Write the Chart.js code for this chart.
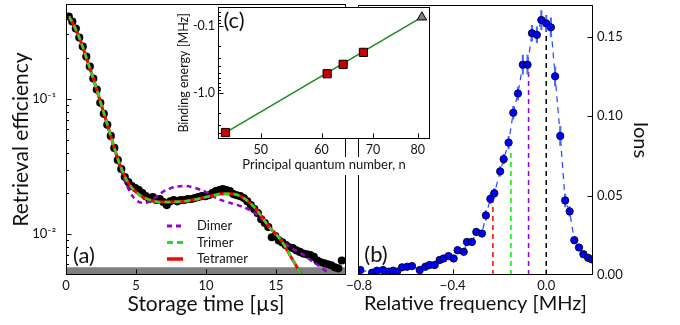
<!DOCTYPE html>
<html>
<head>
<meta charset="utf-8">
<script src="https://cdn.jsdelivr.net/npm/chart.js@4.4.0/dist/chart.umd.min.js"></script>
<style>
  html, body { margin: 0; padding: 0; background: #fff; }
  #wrap { position: relative; width: 680px; height: 325px; overflow: hidden; }
  canvas { position: absolute; top: 0; }
  #chartA { left: 0; }
  #chartB { left: 330px; }
  #chartC { left: 168px; }
  /* white patch behind the inset's x title */
  #mask { position: absolute; left: 230px; top: 157px; width: 192px; height: 18px; background: #fff; }
</style>
</head>
<body>
<div id="wrap">
  <canvas id="chartA" width="352" height="325"></canvas>
  <canvas id="chartB" width="350" height="325"></canvas>
  <div id="mask"></div>
  <canvas id="chartC" width="272" height="180"></canvas>
</div>
<script>
// ---- (a) retrieval efficiency vs storage time
const storageTime = [0.2, 0.45, 0.7, 0.95, 1.2, 1.45, 1.7, 1.95, 2.2, 2.45, 2.7, 2.95, 3.2, 3.45, 3.7, 3.95,
  4.2, 4.45, 4.7, 4.95, 5.2, 5.45, 5.7, 5.95, 6.2, 6.45, 6.7, 6.95, 7.2, 7.45, 7.7, 7.95, 8.2, 8.45, 8.7, 8.95,
  9.2, 9.45, 9.7, 9.95, 10.2, 10.45, 10.7, 10.95, 11.2, 11.45, 11.7, 11.95, 12.2, 12.45, 12.7, 12.95, 13.2,
  13.45, 13.7, 13.95, 14.2, 14.45, 14.7, 14.95, 15.2, 15.45, 15.7, 15.95, 16.2, 16.45, 16.7, 16.95, 17.2,
  17.45, 17.7, 17.95, 18.2, 18.45, 18.7, 18.95, 19.2, 19.45, 19.7];
const efficiency = [0.405, 0.372, 0.330, 0.283, 0.243, 0.205, 0.173, 0.141, 0.117, 0.0934, 0.0774, 0.0642,
  0.0532, 0.0434, 0.0353, 0.0303, 0.0264, 0.0243, 0.0227, 0.0219, 0.0212, 0.0201, 0.0191, 0.0182, 0.0188,
  0.0179, 0.0182, 0.0173, 0.0164, 0.0175, 0.0179, 0.0175, 0.0179, 0.0179, 0.0182, 0.0182, 0.0185, 0.0188,
  0.0191, 0.0191, 0.0194, 0.0201, 0.0208, 0.0212, 0.0215, 0.0212, 0.0208, 0.0198, 0.0194, 0.0191, 0.0185,
  0.0175, 0.0164, 0.0153, 0.0143, 0.0129, 0.0121, 0.0113, 0.0095, 0.0097, 0.0090, 0.0087, 0.0083, 0.0080,
  0.0079, 0.0076, 0.0074, 0.0072, 0.0071, 0.0070, 0.0068, 0.0064, 0.0062, 0.0061, 0.0060, 0.0059, 0.0057,
  0.0056, 0.0064];

const fitTime = [0.2, 0.5, 1, 1.5, 2, 2.5, 3, 3.5, 4, 4.5, 5, 5.5, 6, 6.5, 7, 7.5, 8, 8.5, 9, 9.5, 10, 10.5,
  11, 11.5, 12, 12.5, 13, 13.5, 14, 14.5, 15, 15.5, 16, 16.5, 17];
const tetramerFit = [0.405, 0.359, 0.274, 0.194, 0.136, 0.0918, 0.0621, 0.0419, 0.0298, 0.0235, 0.0205,
  0.0188, 0.0179, 0.0174, 0.0173, 0.0173, 0.0174, 0.0175, 0.0179, 0.0183, 0.0188, 0.0193, 0.0198, 0.0199,
  0.0198, 0.0190, 0.0175, 0.0156, 0.0134, 0.0113, 0.0100, 0.0086, 0.0070, 0.0057, 0.0045];
const trimerFit = [0.405, 0.359, 0.274, 0.194, 0.136, 0.0918, 0.0621, 0.0419, 0.0298, 0.0235, 0.0205,
  0.0188, 0.0179, 0.0174, 0.0173, 0.0173, 0.0174, 0.0175, 0.0179, 0.0183, 0.0188, 0.0193, 0.0198, 0.0199,
  0.0198, 0.0190, 0.0175, 0.0156, 0.0134, 0.0113, 0.0100, 0.0086, 0.0070, 0.0057, 0.0045];
const dimerTime = [0.2, 0.5, 1, 1.5, 2, 2.5, 3, 3.5, 4, 4.5, 5, 5.5, 6, 6.5, 7, 7.5, 8, 8.5, 9, 9.5, 10,
  10.5, 11, 11.5, 12, 12.5, 13, 13.5, 14, 14.5, 15, 15.5, 16, 16.5, 17, 17.5, 18, 18.5, 19];
const dimerFit = [0.405, 0.359, 0.274, 0.194, 0.136, 0.0918, 0.0621, 0.0412, 0.0283, 0.0212, 0.0179,
  0.0170, 0.0175, 0.0191, 0.0208, 0.0219, 0.0225, 0.0227, 0.0223, 0.0215, 0.0205, 0.0191, 0.0180, 0.0173,
  0.0167, 0.0161, 0.0153, 0.0143, 0.0129, 0.0115, 0.0100, 0.0089, 0.0080, 0.0075, 0.0070, 0.0064, 0.0059,
  0.0054, 0.0049];
const floorLevel = 0.0057;
const timeTicks = [0, 5, 10, 15];
const effTicks = [0.006, 0.007, 0.008, 0.009, 0.01, 0.02, 0.03, 0.04, 0.05, 0.06, 0.07, 0.08, 0.09, 0.1,
  0.2, 0.3, 0.4, 0.5];
const legendOrder = ['Dimer', 'Trimer', 'Tetramer'];

// ---- (b) ion signal vs relative frequency
const relFreq = [-0.795, -0.745, -0.724, -0.698, -0.674, -0.655, -0.638, -0.617, -0.595, -0.574, -0.541,
  -0.517, -0.499, -0.477, -0.456, -0.439, -0.418, -0.396, -0.379, -0.353, -0.339, -0.318, -0.299, -0.275,
  -0.258, -0.239, -0.222, -0.197, -0.182, -0.161, -0.141, -0.121, -0.100, -0.080, -0.061, -0.040, -0.021,
  0.000, 0.020, 0.038, 0.060, 0.081, 0.100, 0.120, 0.140, 0.159, 0.179, 0.195];
const ions = [0.0031, 0.0014, 0.0027, 0.0031, 0.0021, 0.0027, 0.0021, 0.0048, 0.0052, 0.0056, 0.0031,
  0.0052, 0.0063, 0.0063, 0.0094, 0.0104, 0.0119, 0.0104, 0.0156, 0.0146, 0.0208, 0.0208, 0.0271, 0.0261,
  0.0375, 0.0479, 0.0514, 0.0652, 0.0729, 0.0833, 0.1021, 0.1142, 0.1323, 0.1323, 0.1521, 0.1511, 0.1604,
  0.1583, 0.1558, 0.125, 0.0875, 0.0469, 0.040, 0.0219, 0.0173, 0.0131, 0.0108, 0.0098];
const ionsErr = [0.002, 0.002, 0.002, 0.002, 0.002, 0.002, 0.002, 0.002, 0.002, 0.002, 0.002, 0.002,
  0.002, 0.002, 0.002, 0.002, 0.002, 0.002, 0.002, 0.002, 0.002, 0.002, 0.002, 0.002, 0.003, 0.003, 0.003,
  0.003, 0.003, 0.004, 0.004, 0.004, 0.006, 0.006, 0.005, 0.005, 0.006, 0.005, 0.006, 0.006, 0.006, 0.004,
  0.003, 0.002, 0.002, 0.002, 0.002, 0.002];
const markerFreq = [-0.228, -0.151, -0.0756, 0.0];
const markerTop = [0.046, 0.078, 0.131, 0.159];
const markerColors = ['#ff0000', '#00ee00', '#9400d3', '#000000'];
const freqTicks = [-0.8, -0.4, 0];
const ionTicks = [0, 0.05, 0.1, 0.15];

// ---- (c) binding energy vs principal quantum number
const quantumN = [45, 61, 64, 68];
const bindingE = [3.92, 0.515, 0.372, 0.246];
const predictedN = [81];
const predictedE = [0.0731];
const fitN = [45, 81];
const fitE = [3.92, 0.0731];
const nTicks = [50, 60, 70, 80];
const energyTicks = [0.06, 0.07, 0.08, 0.09, 0.1, 0.2, 0.3, 0.4, 0.5, 0.6, 0.7, 0.8, 0.9, 1, 2, 3, 4];

const FONT = "Lato, 'Open Sans', sans-serif";
Chart.defaults.font.family = FONT;
Chart.defaults.color = '#111';

const pts = (xs, ys) => xs.map((x, i) => ({ x: x, y: ys[i] }));

function fixedTicks(values) {
  return scale => { scale.ticks = values.map(v => ({ value: v })); };
}
function fixedWidth(w) {
  return scale => {
    scale.width = w;
    scale.paddingTop = scale.paddingBottom = 0;
  };
}
function fixedHeight(h) {
  return scale => {
    scale.height = h;
    scale.paddingLeft = scale.paddingRight = 0;
  };
}

// box around the plot area plus inward tick marks (long for labelled ticks)
function framePlugin(background) {
  return {
    id: 'frame',
    beforeDatasetsDraw(chart) {
      if (!background) return;
      const a = chart.chartArea, ctx = chart.ctx;
      ctx.save();
      ctx.fillStyle = background;
      ctx.fillRect(a.left, a.top, a.right - a.left, a.bottom - a.top);
      ctx.restore();
    },
    afterDatasetsDraw(chart) {
      const a = chart.chartArea, ctx = chart.ctx;
      const L = Math.round(a.left) + 0.5, R = Math.round(a.right) - 0.5;
      const T = Math.round(a.top) + 0.5, B = Math.round(a.bottom) - 0.5;
      ctx.save();
      ctx.strokeStyle = '#000';
      ctx.lineWidth = 1;
      ctx.setLineDash([]);
      ctx.strokeRect(L, T, R - L, B - T);
      Object.values(chart.scales).forEach(s => {
        s.ticks.forEach(t => {
          const p = Math.round(s.getPixelForValue(t.value)) + 0.5;
          const len = t.label ? 5 : 2.5;
          ctx.beginPath();
          if (s.isHorizontal()) {
            if (p < L || p > R) return;
            ctx.moveTo(p, B); ctx.lineTo(p, B - len);
          } else if (s.position === 'left') {
            if (p < T || p > B) return;
            ctx.moveTo(L, p); ctx.lineTo(L + len, p);
          } else {
            if (p < T || p > B) return;
            ctx.moveTo(R, p); ctx.lineTo(R - len, p);
          }
          ctx.stroke();
        });
      });
      ctx.restore();
    }
  };
}

function notesPlugin(texts, legend) {
  return {
    id: 'notes',
    afterDraw(chart) {
      const ctx = chart.ctx;
      ctx.save();
      ctx.fillStyle = '#111';
      ctx.textBaseline = 'middle';
      texts.forEach(t => {
        ctx.font = t.font;
        ctx.textAlign = 'center';
        ctx.fillText(t.text, t.x, t.y);
      });
      if (legend) {
        legend.labels.forEach((name, i) => {
          const ds = chart.data.datasets.find(d => d.label === name);
          const y = legend.y + i * legend.step;
          ctx.strokeStyle = ds.borderColor;
          ctx.lineWidth = ds.borderWidth + 0.5;
          ctx.setLineDash(ds.borderDash || []);
          ctx.beginPath();
          ctx.moveTo(legend.x, y);
          ctx.lineTo(legend.x + 16, y);
          ctx.stroke();
          ctx.font = '13px ' + FONT;
          ctx.textAlign = 'left';
          ctx.fillText(name, legend.x + 30, y);
        });
      }
      ctx.restore();
    }
  };
}

const base = {
  responsive: false,
  animation: false,
  events: [],
  plugins: { legend: { display: false }, tooltip: { enabled: false } }
};

// ---------- panel (a)
new Chart(document.getElementById('chartA'), {
  type: 'line',
  data: {
    datasets: [
      { label: 'Trimer', data: pts(fitTime, trimerFit), borderColor: '#22dd22', borderWidth: 2.5,
        borderDash: [6, 4], pointRadius: 0, tension: 0.4, order: 0 },
      { label: 'Tetramer', data: pts(fitTime, tetramerFit), borderColor: '#ff0000', borderWidth: 3,
        pointRadius: 0, tension: 0.4, order: 1 },
      { label: 'Dimer', data: pts(dimerTime, dimerFit), borderColor: '#9400d3', borderWidth: 2.5,
        borderDash: [5, 4], pointRadius: 0, tension: 0.4, order: 2 },
      { label: 'data', data: pts(storageTime, efficiency), showLine: false, pointRadius: 4.1,
        pointBackgroundColor: '#000', pointBorderColor: '#000', pointBorderWidth: 0, order: 3 },
      { label: 'floor', data: [{ x: 0, y: floorLevel }, { x: 20, y: floorLevel }], fill: 'start',
        backgroundColor: '#808080', borderWidth: 0, pointRadius: 0, order: 4 }
    ]
  },
  options: {
    ...base,
    layout: { padding: { left: 6, top: 3, right: 6, bottom: 5 } },
    scales: {
      x: {
        type: 'linear', min: 0, max: 20,
        afterBuildTicks: fixedTicks(timeTicks),
        afterFit: fixedHeight(45),
        grid: { display: false, drawTicks: false },
        border: { display: false },
        ticks: { autoSkip: false, maxRotation: 0, padding: 3, font: { size: 13 } },
        title: { display: true, text: 'Storage time [µs]', font: { size: 21 }, padding: { top: 2, bottom: 3 } }
      },
      y: {
        type: 'logarithmic', min: 0.005, max: 0.5,
        afterBuildTicks: fixedTicks(effTicks),
        afterFit: fixedWidth(60),
        grid: { display: false, drawTicks: false },
        border: { display: false },
        ticks: {
          autoSkip: false, padding: 10, font: { size: 13 },
          callback: v => (v === 0.1 ? '10⁻¹' : v === 0.01 ? '10⁻²' : '')
        },
        title: { display: true, text: 'Retrieval efficiency', font: { size: 21 }, padding: { top: 3, bottom: 4 } }
      }
    }
  },
  plugins: [
    framePlugin(null),
    notesPlugin([{ text: '(a)', x: 84, y: 256, font: '22px ' + FONT }],
      { labels: legendOrder, x: 167, y: 226, step: 16.5 })
  ]
});

// ---------- panel (b)
const markerSets = markerFreq.map((f, i) => ({
  label: 'marker' + i,
  data: [{ x: f, y: 0 }, { x: f, y: markerTop[i] }],
  borderColor: markerColors[i], borderWidth: 1.5, borderDash: [5, 4], pointRadius: 0, order: 3
}));

new Chart(document.getElementById('chartB'), {
  type: 'line',
  data: {
    datasets: [
      { label: 'ions', data: pts(relFreq, ions), showLine: false, pointRadius: 3.7,
        pointBackgroundColor: '#0000ff', pointBorderColor: '#000', pointBorderWidth: 0.8, clip: 0, order: 0 },
      { type: 'bar', label: 'err',
        data: relFreq.map((f, i) => ({ x: f, y: [ions[i] - ionsErr[i], ions[i] + ionsErr[i]] })),
        backgroundColor: '#4a6cff', barThickness: 1.5, order: 1 },
      { label: 'link', data: pts(relFreq, ions), borderColor: '#2845ff', borderWidth: 1.2,
        borderDash: [6, 5], pointRadius: 0, order: 2 },
      ...markerSets
    ]
  },
  options: {
    ...base,
    layout: { padding: { left: 28, top: 3, right: 24, bottom: 5 } },
    scales: {
      x: {
        type: 'linear', min: -0.805, max: 0.2, offset: false,
        afterBuildTicks: fixedTicks(freqTicks),
        afterFit: fixedHeight(45),
        grid: { display: false, drawTicks: false },
        border: { display: false },
        ticks: {
          autoSkip: false, maxRotation: 0, padding: 3, font: { size: 13 },
          callback: v => (v < 0 ? '\u2212' : '') + Math.abs(v).toFixed(1)
        },
        title: { display: true, text: 'Relative frequency [MHz]', font: { size: 20 }, padding: { top: 2, bottom: 4 } }
      },
      y: {
        type: 'linear', position: 'right', min: 0, max: 0.17,
        afterBuildTicks: fixedTicks(ionTicks),
        afterFit: fixedWidth(63),
        grid: { display: false, drawTicks: false },
        border: { display: false },
        ticks: { autoSkip: false, padding: 4, font: { size: 13 }, callback: v => v.toFixed(2) },
        title: { display: true, text: 'Ions', font: { size: 20 }, padding: { top: 4, bottom: 4 } }
      }
    }
  },
  plugins: [
    framePlugin(null),
    notesPlugin([{ text: '(b)', x: 46, y: 255, font: '22px ' + FONT }], null)
  ]
});

// ---------- panel (c), inset
new Chart(document.getElementById('chartC'), {
  type: 'line',
  data: {
    datasets: [
      { label: 'predicted', data: pts(predictedN, predictedE), showLine: false, pointStyle: 'triangle',
        pointRadius: 5.5, pointBackgroundColor: '#808080', pointBorderColor: '#000', pointBorderWidth: 1, order: 0 },
      { label: 'measured', data: pts(quantumN, bindingE), showLine: false, pointStyle: 'rect',
        pointRadius: 5.8, pointBackgroundColor: '#cc0000', pointBorderColor: '#000', pointBorderWidth: 1, order: 1 },
      { label: 'fit', data: pts(fitN, fitE), borderColor: '#1a8c1a', borderWidth: 1.5, pointRadius: 0, order: 2 }
    ]
  },
  options: {
    ...base,
    layout: { padding: { left: 4, top: 3, right: 10, bottom: 3 } },
    scales: {
      x: {
        type: 'logarithmic', min: 44, max: 83,
        afterBuildTicks: fixedTicks(nTicks),
        afterFit: fixedHeight(38),
        grid: { display: false, drawTicks: false },
        border: { display: false },
        ticks: { autoSkip: false, maxRotation: 0, padding: 3, font: { size: 12.5 }, callback: v => String(v) },
        title: { display: true, text: 'Principal quantum number, n', font: { size: 13 }, padding: { top: 2, bottom: 4 } }
      },
      y: {
        type: 'logarithmic', min: 0.051, max: 4.9, reverse: true,
        afterBuildTicks: fixedTicks(energyTicks),
        afterFit: fixedWidth(46),
        grid: { display: false, drawTicks: false },
        border: { display: false },
        ticks: {
          autoSkip: false, padding: 3, font: { size: 12.5 },
          callback: v => (v === 0.1 ? '-0.1' : v === 1 ? '-1.0' : '')
        },
        title: { display: true, text: 'Binding energy [MHz]', font: { size: 12.5 }, padding: { top: 4, bottom: 2 } }
      }
    }
  },
  plugins: [
    framePlugin('#ffffff'),
    notesPlugin([{ text: '(c)', x: 66, y: 21, font: '22px ' + FONT }], null)
  ]
});
</script>
</body>
</html>
